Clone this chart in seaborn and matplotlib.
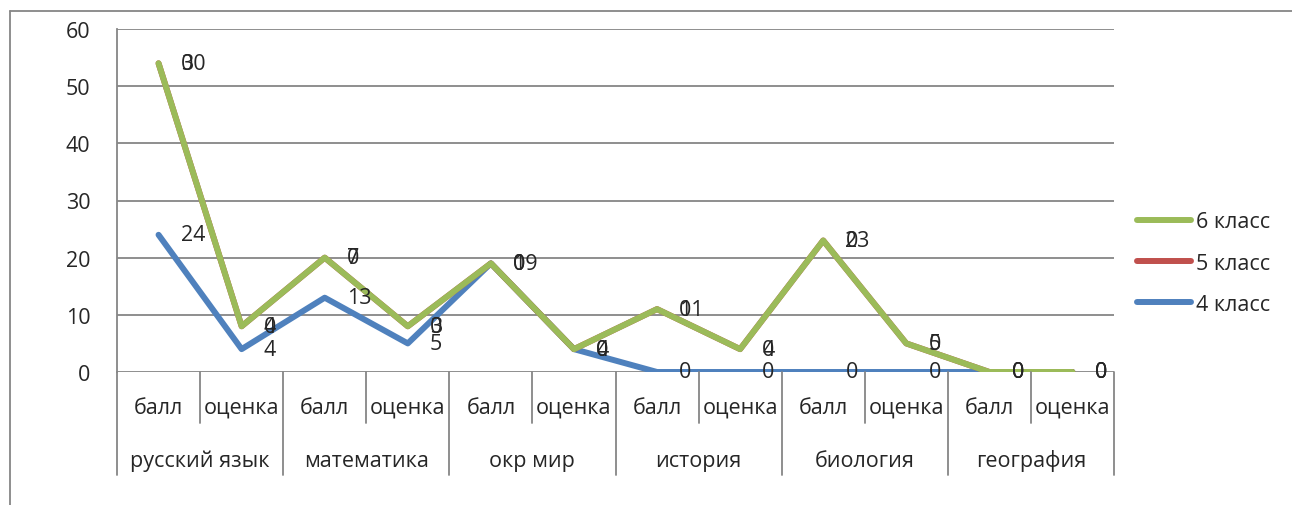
import numpy as np
import pandas as pd
import matplotlib
matplotlib.use("Agg")
import matplotlib.pyplot as plt
import matplotlib.transforms as mtransforms
from matplotlib.lines import Line2D
import seaborn as sns

subjects = ["русский язык", "математика", "окр мир", "история", "биология", "география"]
kinds = ["балл", "оценка"]
grade4 = [24, 4, 13, 5, 19, 4, 0, 0, 0, 0, 0, 0]
grade5 = [30, 4, 7, 3, 0, 0, 11, 4, 23, 5, 0, 0]
grade6 = [0, 0, 0, 0, 0, 0, 0, 0, 0, 0, 0, 0]
series_names = ["4 класс", "5 класс", "6 класс"]
colors = ["#4F81BD", "#C0504D", "#9BBB59"]

sns.set_style("white")
plt.rcParams['font.family'] = ['Open Sans', 'DejaVu Sans']

# stacked line chart, like the Excel original
values = np.array([grade4, grade5, grade6])
stacked = values.cumsum(axis=0)
n = len(grade4)
rows = []
for s, name in enumerate(series_names):
    for i in range(n):
        rows.append({"pos": i, "val": stacked[s, i], "raw": values[s, i], "series": name})
df = pd.DataFrame(rows)

W, H = 1292, 506
fig = plt.figure(figsize=(W / 100, H / 100), dpi=100)
ax = fig.add_axes([117 / W, 1 - 373 / H, (1114 - 117) / W, (373 - 30) / H])

sns.lineplot(data=df, x="pos", y="val", hue="series", palette=colors,
             hue_order=series_names, linewidth=4.3, ax=ax, legend=False,
             sort=False, estimator=None)
for line in ax.lines:
    line.set_solid_capstyle("round")

fs = 15.5
for _, r in df.iterrows():
    ax.annotate(str(int(r["raw"])), (r["pos"], r["val"]), xytext=(16, 0),
                textcoords="offset points", ha="left", va="center", fontsize=fs)

ax.set_xlim(-0.5, n - 0.5)
ax.set_ylim(0, 60)
ax.set_yticks(range(0, 61, 10))
ax.yaxis.grid(True, color="#868686", linewidth=1.3)
ax.set_axisbelow(True)
for side in ["top", "right", "bottom"]:
    ax.spines[side].set_visible(False)
ax.spines["left"].set_color("#868686")
ax.spines["left"].set_linewidth(1.3)
ax.tick_params(axis="y", length=7, color="#868686", width=1.3, labelsize=fs, pad=12)
ax.set_xlabel("")
ax.set_ylabel("")

# category axis: two levels
ax.set_xticks(range(n))
ax.set_xticklabels(kinds * len(subjects), fontsize=fs)
ax.tick_params(axis="x", length=0, pad=18)
tr = mtransforms.blended_transform_factory(ax.transData, ax.transAxes)
for k in range(n + 1):
    bottom = -0.30 if k % 2 == 0 else -0.149
    ax.plot([k - 0.5, k - 0.5], [0, bottom], color="#868686", lw=1.3,
            transform=tr, clip_on=False)
for g, name in enumerate(subjects):
    ax.text(2 * g + 0.5, -0.2566, name, transform=tr, ha="center", va="center", fontsize=fs)

# legend on the right
handles = [Line2D([], [], color=c, lw=4.3, solid_capstyle="round") for c in colors]
fig.legend(handles[::-1], series_names[::-1], loc="center left",
           bbox_to_anchor=(1118 / W, 1 - 264 / H), frameon=False, fontsize=fs,
           handlelength=2.5, handletextpad=0.2, labelspacing=0.95)

# chart area border
fig.add_artist(Line2D([10 / W, 10 / W], [0, 1 - 12 / H], color="#868686", lw=1.3))
fig.add_artist(Line2D([10 / W, 1], [1 - 12 / H, 1 - 12 / H], color="#868686", lw=1.3))

fig.savefig("out.png", dpi=100)
